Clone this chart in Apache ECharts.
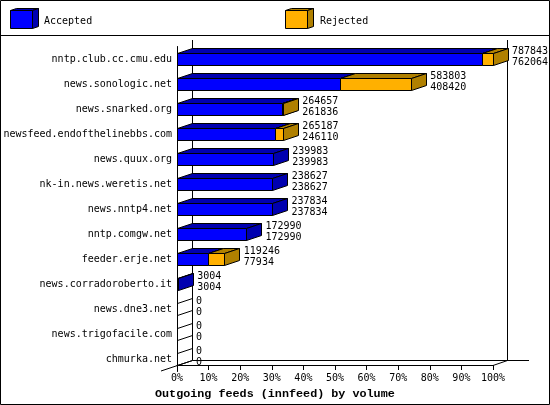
<!DOCTYPE html>
<html><head><meta charset="utf-8">
<style>html,body{margin:0;padding:0;background:#fff}#c{width:550px;height:405px}</style>
<script src="https://cdn.jsdelivr.net/npm/echarts@6/dist/echarts.min.js"></script>
</head><body><div id="c"></div>
<script>
var categories = ['nntp.club.cc.cmu.edu','news.sonologic.net','news.snarked.org','newsfeed.endofthelinebbs.com','news.quux.org','nk-in.news.weretis.net','news.nntp4.net','nntp.comgw.net','feeder.erje.net','news.corradoroberto.it','news.dne3.net','news.trigofacile.com','chmurka.net'];
var offered = [787843,583803,264657,265187,239983,238627,237834,172990,119246,3004,0,0,0];
var accepted = [762064,408420,261836,246110,239983,238627,237834,172990,77934,3004,0,0,0];
var axisMax = 787843;
var percentTicks = 10;

var DX = 15, DY = 5, HALF = 6;
var BLUE = '#0000ff', BLUE_D = '#0000b0', ORANGE = '#ffb000', ORANGE_D = '#b08000';
var MONO = '"DejaVu Sans Mono", monospace';
function snap(v){ return Math.floor(v + 0.001) + 0.5; }
function poly(pts, fill){
  return {type:'polygon', shape:{points:pts}, style:{fill:fill, stroke:'#000', lineWidth:1}};
}
function stub(x, y){
  return {type:'line', shape:{x1:x, y1:y, x2:x+DX, y2:y-DY}, style:{stroke:'#000', lineWidth:1}};
}
function box(x0, x1, y, front, dark){
  var t = y - HALF, b = y + HALF;
  return [
    poly([[x0,t],[x0+DX,t-DY],[x1+DX,t-DY],[x1,t]], dark),
    poly([[x1,t],[x1+DX,t-DY],[x1+DX,b-DY],[x1,b]], dark),
    poly([[x0,t],[x1,t],[x1,b],[x0,b]], front)
  ];
}
function renderAccepted(params, api){
  var p0 = api.coord([0, api.value(0)]), p1 = api.coord([api.value(1), api.value(0)]);
  var x0 = snap(p0[0]), y = Math.round(p0[1]) + 0.5;
  if (api.value(1) === 0) return {type:'group', children:[stub(x0, y-HALF), stub(x0, y+HALF)]};
  return {type:'group', children: box(x0, snap(p1[0]), y, BLUE, BLUE_D)};
}
function renderRejected(params, api){
  var a = api.coord([api.value(1), api.value(0)]), t = api.coord([api.value(2), api.value(0)]);
  if (api.value(2) <= api.value(1)) return {type:'group', children:[]};
  return {type:'group', children: box(snap(a[0]), snap(t[0]), Math.round(a[1]) + 0.5, ORANGE, ORANGE_D)};
}
function renderLabels(params, api){
  var t = api.coord([api.value(1), api.value(0)]);
  var st = {fontFamily:MONO, fontSize:10, fill:'#000', textAlign:'left', textVerticalAlign:'middle'};
  var x = t[0] + DX + 4;
  return {type:'group', children:[
    {type:'text', style:Object.assign({x:x, y:t[1]-8, text:String(api.value(1))}, st)},
    {type:'text', style:Object.assign({x:x, y:t[1]+3, text:String(api.value(2))}, st)}
  ]};
}
function legendBox(x, front, dark){
  var x0=x+.5, x1=x+22.5, t=10.5, b=28.5;
  return [
    poly([[x0,t],[x0+6,8.5],[x1+6,8.5],[x1,t]], dark),
    poly([[x1,t],[x1+6,8.5],[x1+6,26.5],[x1,b]], dark),
    poly([[x0,t],[x1,t],[x1,b],[x0,b]], front)
  ];
}
function line(x1,y1,x2,y2){ return {type:'line', shape:{x1:x1,y1:y1,x2:x2,y2:y2}, style:{stroke:'#000', lineWidth:1}, z:0}; }

var chart = echarts.init(document.getElementById('c'), null, {renderer:'canvas'});
var rows = categories.map(function(c,i){ return i; });
chart.setOption({
  animation:false,
  backgroundColor:'#fff',
  title:{text:'Outgoing feeds (innfeed) by volume', left:155, top:388, padding:0, itemGap:0,
    textStyle:{fontFamily:'"Liberation Mono", monospace', fontWeight:'bold', fontSize:11.75, color:'#000'}},
  grid:{left:177, top:46.5, width:316, height:325},
  xAxis:{type:'value', min:0, max:axisMax, interval:axisMax/percentTicks, offset:-6.5,
    axisLine:{show:true, lineStyle:{color:'#000', width:1}},
    axisTick:{show:true, length:5, lineStyle:{color:'#000', width:1}},
    splitLine:{show:false},
    axisLabel:{color:'#000', fontFamily:MONO, fontSize:10, margin:8, showMaxLabel:true,
      formatter:function(v){ return Math.round(v/axisMax*100)+'%'; }}},
  yAxis:{type:'category', inverse:true, data:categories,
    axisLine:{show:true, lineStyle:{color:'#000', width:1}},
    axisTick:{show:false}, splitLine:{show:false},
    axisLabel:{color:'#000', fontFamily:MONO, fontSize:10, margin:5, padding:[4,0,0,0]}},
  graphic:{elements:[
    {type:'group', silent:true, z:0, children:[
      {type:'rect', shape:{x:0.5,y:0.5,width:549,height:404}, style:{fill:'none',stroke:'#000',lineWidth:1}},
      line(0,35.5,550,35.5),
      line(192.5,40,192.5,360.5),
      line(507.5,40,507.5,360.5),
      line(192.5,360.5,529,360.5),
      line(161,371,192.5,360.5),
      line(493,365.5,507.5,360.5),
      line(177,365.5,493,365.5)
    ]},
    {type:'group', silent:true, children:legendBox(10,BLUE,BLUE_D)},
    {type:'group', silent:true, children:legendBox(285,ORANGE,ORANGE_D)},
    {type:'text', silent:true, style:{x:44,y:21,text:'Accepted',fontFamily:MONO,fontSize:10,fill:'#000',textVerticalAlign:'middle'}},
    {type:'text', silent:true, style:{x:320,y:21,text:'Rejected',fontFamily:MONO,fontSize:10,fill:'#000',textVerticalAlign:'middle'}}
  ]},
  series:[
    {type:'custom', name:'Accepted', renderItem:renderAccepted, clip:false, z:3, encode:{x:1,y:0},
      data:rows.map(function(i){ return [i, accepted[i]]; })},
    {type:'custom', name:'Rejected', renderItem:renderRejected, clip:false, z:4, encode:{x:2,y:0},
      data:rows.map(function(i){ return [i, accepted[i], offered[i]]; })},
    {type:'custom', name:'Totals', renderItem:renderLabels, clip:false, z:5, encode:{x:1,y:0},
      data:rows.map(function(i){ return [i, offered[i], accepted[i]]; })}
  ]
});
</script></body></html>
